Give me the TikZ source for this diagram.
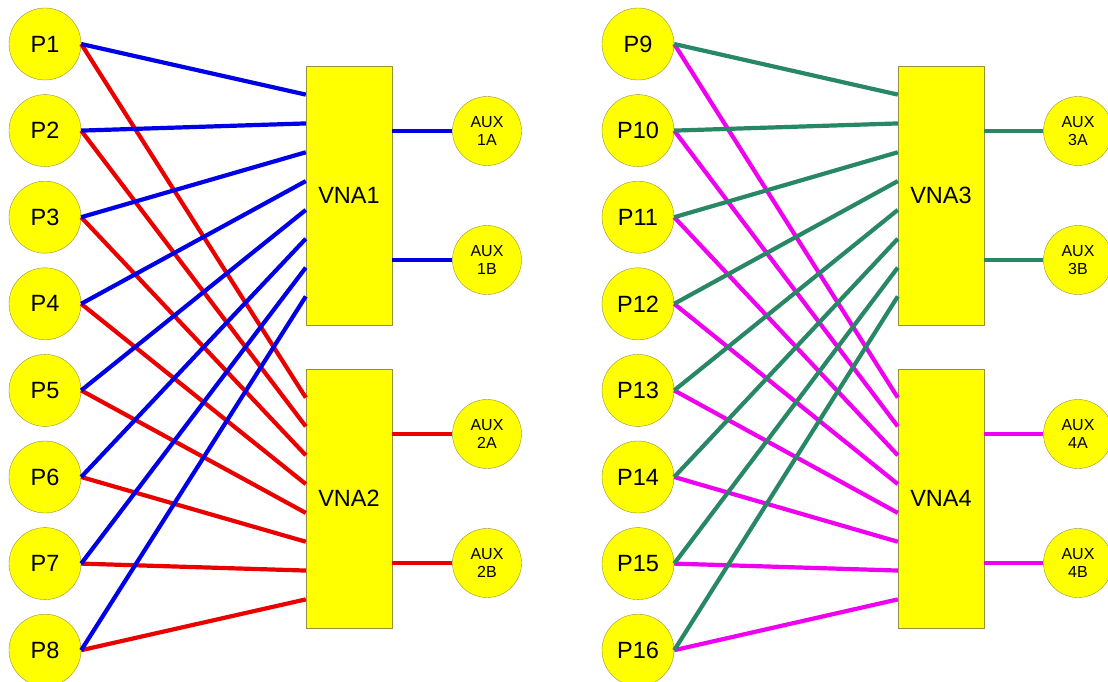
\documentclass[tikz,border=0pt]{standalone}
\usepackage{fontspec}
\setmainfont{Liberation Sans}
\usepackage{tikz}
\usetikzlibrary{calc}
\definecolor{padyellow}{RGB}{255,255,0}
\definecolor{padedge}{RGB}{150,145,60}
\definecolor{linkblue}{RGB}{0,0,230}
\definecolor{linkred}{RGB}{235,0,0}
\definecolor{linkgreen}{RGB}{40,135,100}
\definecolor{linkmagenta}{RGB}{240,0,240}

\begin{document}
\begin{tikzpicture}[x=1pt,y=-1pt]
 \tikzstyle{port}=[circle,draw=padedge,fill=padyellow,minimum size=72pt,inner sep=0pt,font=\fontsize{23.5}{26}\selectfont]
 \tikzstyle{aux}=[circle,draw=padedge,fill=padyellow,minimum size=69pt,inner sep=0pt,align=center,font=\fontsize{16}{18.5}\selectfont]
 \tikzstyle{vna}=[rectangle,draw=padedge,fill=padyellow,minimum width=86pt,minimum height=259pt,inner sep=0pt,font=\fontsize{23.5}{26}\selectfont]
 \tikzstyle{link}=[line width=4.2pt]
 \useasboundingbox (0,0) rectangle (1108,682);
 % the ports, left and right group
 \foreach \i in {1,...,8} {
  \pgfmathsetmacro{\yy}{44+(\i-1)*86.6}
  \pgfmathtruncatemacro{\j}{\i+8}
  \node[port] at (45,\yy) (P\i) {P\i};
  \node[port] at (638,\yy) (P\j) {P\j};
 }
 % analysers
 \node[vna] at (349,195.5) (VNA1) {VNA1};
 \node[vna] at (349,498.5) (VNA2) {VNA2};
 \node[vna] at (941,195.5) (VNA3) {VNA3};
 \node[vna] at (941,498.5) (VNA4) {VNA4};
 % auxiliary ports
 \node[aux] at (487,131) (AUX1A) {AUX\\1A};
 \node[aux] at (487,260) (AUX1B) {AUX\\1B};
 \node[aux] at (487,434) (AUX2A) {AUX\\2A};
 \node[aux] at (487,563) (AUX2B) {AUX\\2B};
 \node[aux] at (1078,131) (AUX3A) {AUX\\3A};
 \node[aux] at (1078,260) (AUX3B) {AUX\\3B};
 \node[aux] at (1078,434) (AUX4A) {AUX\\4A};
 \node[aux] at (1078,563) (AUX4B) {AUX\\4B};
 % links
 \foreach \i in {1,...,8} {
  \pgfmathtruncatemacro{\j}{\i+8}
  \draw[link,linkred] (P\i.east) -- ($(VNA2.north west)!\i/9!(VNA2.south west)$);
  \draw[link,linkmagenta] (P\j.east) -- ($(VNA4.north west)!\i/9!(VNA4.south west)$);
 }
 \foreach \i in {1,...,8} {
  \pgfmathtruncatemacro{\j}{\i+8}
  \draw[link,linkblue] (P\i.east) -- ($(VNA1.north west)!\i/9!(VNA1.south west)$);
  \draw[link,linkgreen] (P\j.east) -- ($(VNA3.north west)!\i/9!(VNA3.south west)$);
 }
 \draw[link,linkblue] (AUX1A.west -| VNA1.east) -- (AUX1A.west);
 \draw[link,linkblue] (AUX1B.west -| VNA1.east) -- (AUX1B.west);
 \draw[link,linkred] (AUX2A.west -| VNA2.east) -- (AUX2A.west);
 \draw[link,linkred] (AUX2B.west -| VNA2.east) -- (AUX2B.west);
 \draw[link,linkgreen] (AUX3A.west -| VNA3.east) -- (AUX3A.west);
 \draw[link,linkgreen] (AUX3B.west -| VNA3.east) -- (AUX3B.west);
 \draw[link,linkmagenta] (AUX4A.west -| VNA4.east) -- (AUX4A.west);
 \draw[link,linkmagenta] (AUX4B.west -| VNA4.east) -- (AUX4B.west);
\end{tikzpicture}
\end{document}
